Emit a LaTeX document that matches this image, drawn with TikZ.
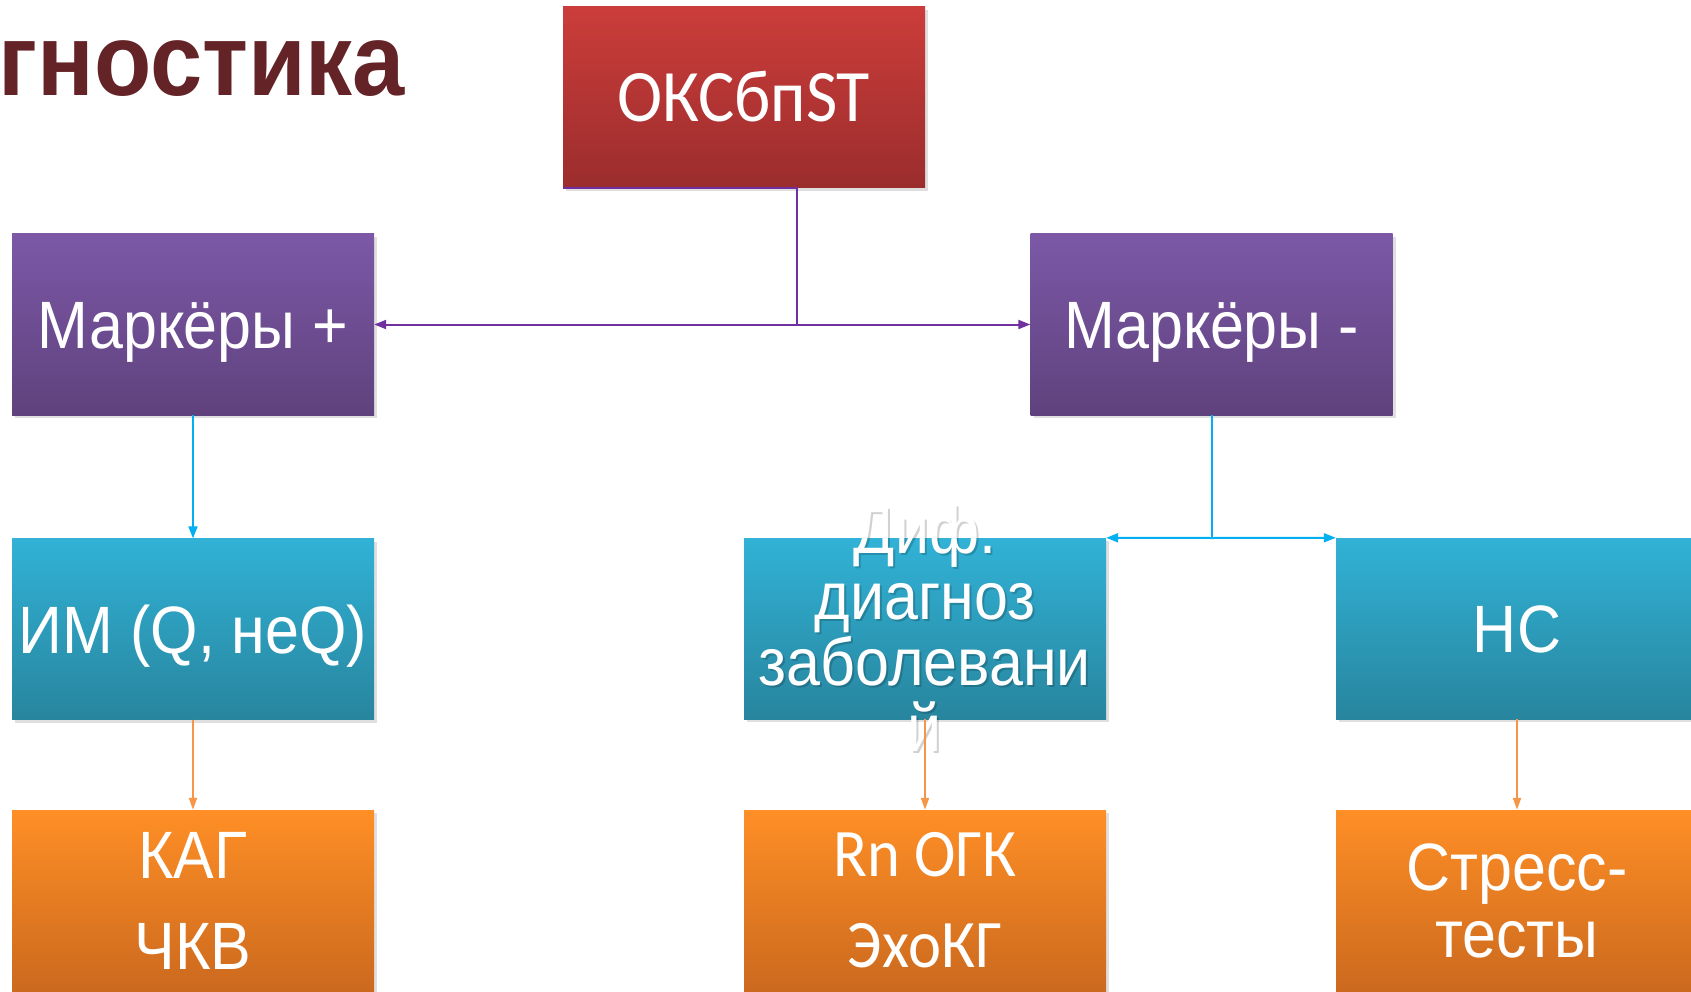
\documentclass[tikz,border=0pt]{standalone}
\usepackage{fontspec}
\setmainfont{Liberation Sans}[FakeStretch=0.91]
\newfontfamily\calfont{Carlito}[FakeStretch=0.92]
\newfontfamily\titlefont{Liberation Sans}[FakeStretch=0.92]
\usetikzlibrary{arrows.meta,shadows}
\definecolor{rtop}{RGB}{203,61,58}
\definecolor{rbot}{RGB}{155,45,45}
\definecolor{ptop}{RGB}{124,88,167}
\definecolor{pbot}{RGB}{95,66,125}
\definecolor{btop}{RGB}{49,178,214}
\definecolor{bbot}{RGB}{40,133,158}
\definecolor{otop}{RGB}{255,143,38}
\definecolor{obot}{RGB}{203,105,30}
\definecolor{cpur}{RGB}{112,48,160}
\definecolor{cblu}{RGB}{0,176,240}
\definecolor{cora}{RGB}{247,150,70}
\definecolor{ttl}{RGB}{100,35,38}
\begin{document}
\begin{tikzpicture}[x=1pt,y=-1pt,
  box/.style={minimum width=362pt, minimum height=181pt, inner sep=0pt, text=white,
    drop shadow={opacity=0.25, shadow xshift=3pt, shadow yshift=-3pt}},
  redbox/.style={box, top color=rtop, bottom color=rbot},
  purbox/.style={box, top color=ptop, bottom color=pbot},
  blubox/.style={box, top color=btop, bottom color=bbot},
  orabox/.style={box, top color=otop, bottom color=obot},
  big/.style={font=\fontsize{67}{67}\selectfont},
  oneline/.style={big, text height=48pt, text depth=0pt},
  pline/.style={draw=cpur, line width=2pt},
  parrow/.style={pline, -{Triangle[length=12pt,width=9pt]}},
  barrow/.style={draw=cblu, line width=2pt, -{Triangle[length=12pt,width=9pt]}},
  oarrow/.style={draw=cora, line width=2pt, -{Triangle[length=12pt,width=8pt]}}]
\useasboundingbox (0,0) rectangle (1691,992);
\node[anchor=base west, inner sep=0pt, text=ttl, font=\titlefont\bfseries\fontsize{102}{104}\selectfont] (title) at (-2,96) {гностика};
\node[redbox, font=\calfont\fontsize{74}{74}\selectfont, text height=48pt, text depth=0pt] (okc) at (744,97.5) {ОКСбпST};
\node[purbox, oneline] (mp) at (193,324.5) {Маркёры +};
\node[purbox, oneline] (mm) at (1211.5,324.5) {Маркёры -};
\node[blubox, oneline] (im) at (193,629) {ИМ (Q, неQ)};
\node[blubox] (dd) at (925,628.5) {};
\node[blubox, oneline] (nc) at (1517,628.5) {НС};
\node[orabox, big, align=center, font=\fontsize{67}{91}\selectfont] (kag) at (193,900.5) {КАГ\\ЧКВ};
\node[orabox, align=center, font=\calfont\fontsize{68}{91}\selectfont] (rn) at (925,900.5) {Rn ОГК\\ЭхоКГ};
\node[orabox, align=center, font=\fontsize{67}{67}\selectfont] (st) at (1517,900.5) {Стресс-\\тесты};
\node[align=center, text=black, opacity=0.18, font=\fontsize{67}{66}\selectfont] (ddshadow) at ([xshift=2pt,yshift=-2pt]dd.center) {Диф.\\диагноз\\заболевани\\й};
\node[align=center, text=white, font=\fontsize{67}{66}\selectfont] (ddtext) at (dd.center) {Диф.\\диагноз\\заболевани\\й};
\coordinate (j1) at (797,324.5);
\coordinate (j2) at (1211.5,538);
\draw[pline] (okc.south west) -| (j1);
\draw[parrow] (j1) -- (mp.east);
\draw[parrow] (j1) -- (mm.west);
\draw[barrow] (mp.south) -- (im.north);
\draw[draw=cblu, line width=2pt] (mm.south) -- (j2);
\draw[barrow] (j2) -- (dd.north east);
\draw[barrow] (j2) -- (nc.north west);
\draw[oarrow] (im.south) -- (kag.north);
\draw[oarrow] (dd.south) -- (rn.north);
\draw[oarrow] (nc.south) -- (st.north);
\end{tikzpicture}
\end{document}
